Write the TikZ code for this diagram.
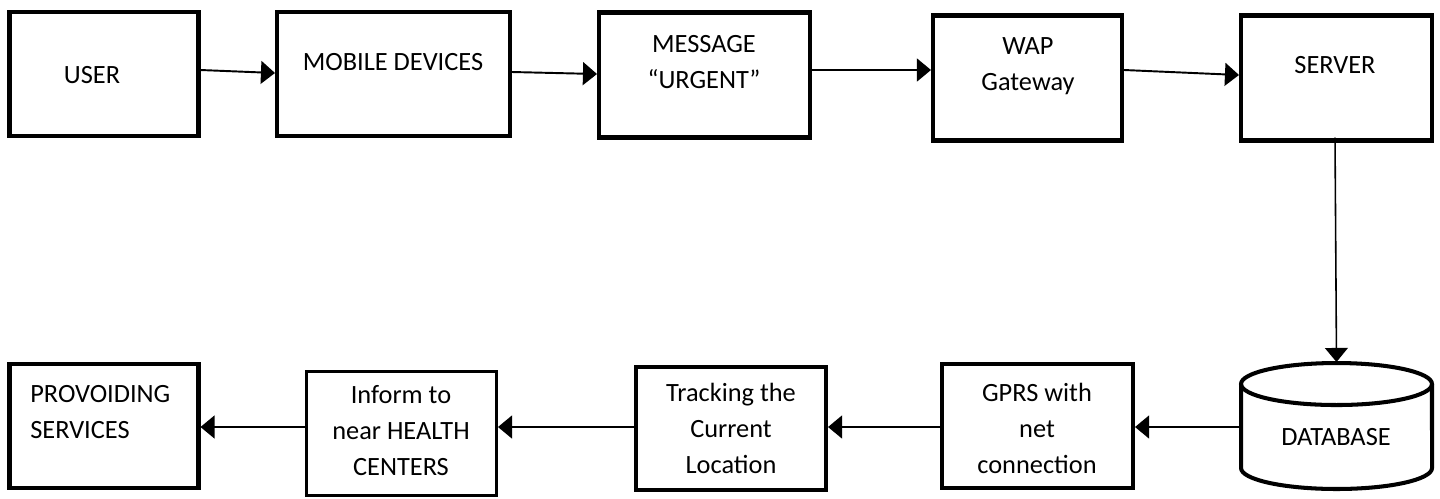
\documentclass[tikz,border=0pt]{standalone}
\usepackage{fontspec}
\setmainfont{Carlito}
\usepackage{xcolor}
\RequirePackage{tikz}
\usetikzlibrary{positioning,calc,arrows.meta}
\tikzset{
	blok/.style={draw, line width=2.3pt, rectangle, minimum width=3.78cm, minimum height=2.5cm},
	pijl/.style={-{Triangle[length=8pt, width=13pt]}, line width=1.1pt},
	dblijn/.style={line width=2.3pt},
	tekst/.style={font=\fontsize{15pt}{20.5pt}\selectfont, align=center, inner sep=0pt}
}

\begin{document}
\begin{tikzpicture}[x=0.02cm, y=-0.02cm]
			\useasboundingbox (0,0) rectangle (1440,498);
			\node[blok, minimum height=2.48cm] (user) at (104,74) {};
			\node[blok, minimum width=4.66cm, minimum height=2.48cm] (mobile) at (393.5,74) {};
			\node[blok, minimum width=4.22cm] (message) at (704.5,75) {};
			\node[blok] (wap) at (1027.5,78) {};
			\node[blok, minimum width=3.82cm] (server) at (1336.5,78) {};
			\node[tekst] (userT) at (92,75) {USER};
			\node[tekst] (mobileT) at (393,62) {MOBILE DEVICES};
			\node[tekst] (messageT) at (704,62) {MESSAGE\\“URGENT”};
			\node[tekst] (wapT) at (1028,66) {WAP\\Gateway};
			\node[tekst] (serverT) at (1335,65) {SERVER};
			\node[blok, minimum height=2.48cm] (services) at (104,426) {};
			\node[blok, line width=1.7pt, minimum width=3.8cm, minimum height=2.48cm] (inform) at (401.5,433.5) {};
			\node[blok, minimum width=3.8cm, minimum height=2.46cm] (tracking) at (731,428.5) {};
			\node[blok, minimum width=3.82cm, minimum height=2.48cm] (gprs) at (1037.5,426) {};
			\node[inner sep=0pt, outer sep=0pt, minimum width=3.9cm, minimum height=2.56cm] (db) at (1336.5,426) {};
			\draw[dblijn] ([shift={(0,22)}]db.north) ellipse [x radius=95.5, y radius=21];
			\draw[dblijn] ([shift={(2,22)}]db.north west) -- ([shift={(2,-22)}]db.south west) arc [start angle=180, end angle=0, x radius=95.5, y radius=21] -- ([shift={(-2,22)}]db.north east);
			\node[tekst, anchor=west, align=left] (servicesT) at (30,412) {PROVOIDING\\SERVICES};
			\node[tekst] (informT) at (401,431) {Inform to\\near HEALTH\\CENTERS};
			\node[tekst] (trackingT) at (731,428) {Tracking the\\Current\\Location};
			\node[tekst] (gprsT) at (1037,428) {GPRS with\\net\\connection};
			\node[tekst] (dbT) at (1336,437) {DATABASE};
			\draw[pijl] ([yshift=0.08cm]user.east) -- ([yshift=0.02cm]mobile.west);
			\draw[pijl] ([yshift=0.04cm]mobile.east) -- ([yshift=0.02cm]message.west);
			\draw[pijl] ([yshift=0.1cm]message.east) -- ([yshift=0.16cm]wap.west);
			\draw[pijl] ([yshift=0.16cm]wap.east) -- ([yshift=0.06cm]server.south west |- server.west);
			\draw[pijl, line width=0.9pt] ([xshift=-0.03cm, yshift=0.1cm]server.south) -- (db.north);
			\draw[pijl] ([yshift=-0.02cm]db.west) -- ([yshift=-0.02cm]gprs.east);
			\draw[pijl] ([yshift=-0.02cm]gprs.west) -- ([yshift=0.03cm]tracking.east);
			\draw[pijl] ([yshift=0.03cm]tracking.west) -- ([yshift=0.13cm]inform.east);
			\draw[pijl] ([yshift=0.13cm]inform.west) -- ([yshift=-0.02cm]services.east);
		\end{tikzpicture}
\end{document}
